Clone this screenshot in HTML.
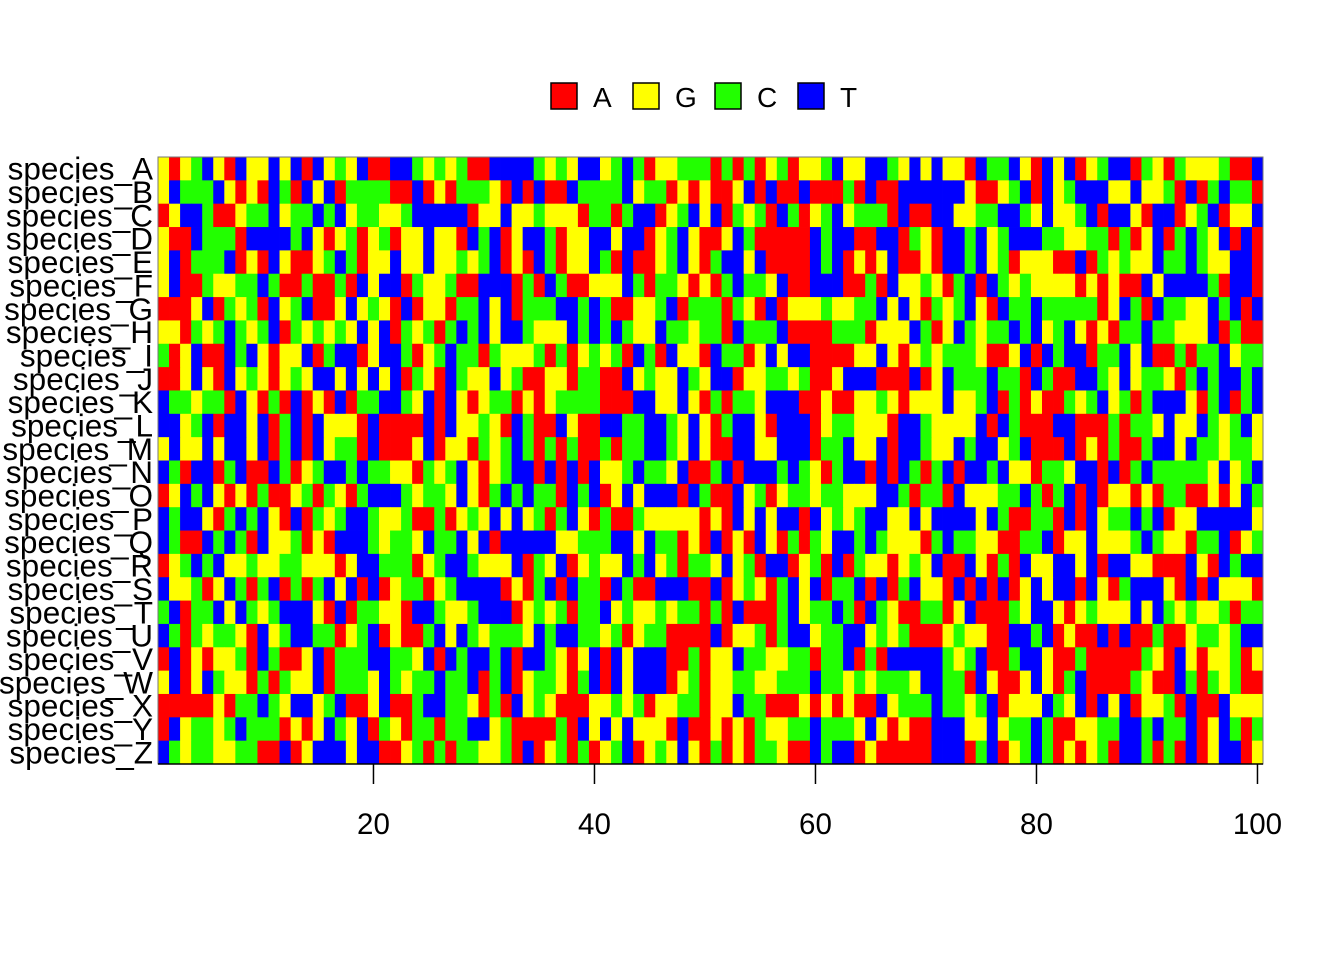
<!DOCTYPE html>
<html><head><meta charset="utf-8"><style>
html,body{margin:0;padding:0;background:#fff;}
svg{display:block;font-family:"Liberation Sans",Arial,sans-serif;}
</style></head><body>
<svg id="chart" width="1344" height="960" viewBox="0 0 1344 960" xmlns="http://www.w3.org/2000/svg">
<rect width="1344" height="960" fill="#fff"/>
<g id="legend"></g>
<g id="cells"></g>
<g id="yaxis"></g>
<g id="xaxis"></g>
</svg>
<script>
const species = ["A","B","C","D","E","F","G","H","I","J","K","L","M","N","O","P","Q","R","S","T","U","V","W","X","Y","Z"];
const bases = ["A","G","C","T"];
const baseColors = ["#ff0000","#ffff00","#22ff00","#0000ff"];
const xTicks = [20,40,60,80,100];
const sequences = [
"YRYGBYRBYYBYBRBYGYBRRBBGYGYGRRBBBBGYGYBBYGBGRYYGGG"+"RGRGRYGRYYGBYYBBGYBYBYYRBGGBYRBYBRYGBBRGYRGYYYGRRB",
"YBGGGBYRYRBGRBYBRGGGGRRBRYRGGGYRBRBRRBGGGGBYGGRYRY"+"RRYBRBRRBRRRGRBRRBBBBBBYRRYGBRBYGBBBYYBYYGRBRGBGGR",
"RYBBGRRYGGBYGGBGBYGGYYGBBBBBRYYBYYGYYYRGGRGBBRYGBY"+"BRGYGRBGRYGBYGGGRBRRBBYYGGBBGYBYYGBRBBYRBBRYGBRYYB",
"YRRBGGGRBBBBGBYRYGRYGRYYBYYRBGBRYBBGRYYBBYBBRYGBYR"+"RYBGRRRRRBGBBRRBBRGYRBBGBYGBBBGGYYGGRGRYBRGBGYBRBR",
"YBRGGGBRYRBYRRYGBGRYYBYYBYYGYGBRYRBGRYYBGRBRRYGBYR"+"GBBYBRRRRBGBRYRYBRRYRBBGBYGRYYYRRBRGYGYYBGGBGYYBBR",
"YBRRGYYGGBGRRGRRGRBYBBRGYYGRRBBBRGRBGRRYYYBGRGGYRY"+"RGBGGYBRRBBBRRGRBYYGYRGBRBGYGYYYYRYRYRRBYBBBBGRBBR",
"RRRYBRGYGRBYGBRRYBYGYRBRYYRGGBYBRGGGBBGBGRRYYGBRGG"+"GRGYRBRYYYGYYGGBYBYRGYGBYRBGGBGGGGGRYBGRBGGYYBGBRB",
"YYRGYGBGYGBRGYGYGYBYBRGYGRGBGBYBBGYYYBGBGBGYYBGGYG"+"GRBGGGBRRRRGGGRYYYBGRYBGYGGBGBYGBYRYRGGBGGYYYBRGRR",
"GRYBRRBGBYRYYBRGBBRYBBGRYGBGGRGYYYGRGRYGYGRBGRBYYR"+"BGGRYBYBBRRRRYYBYRYGYGGGYRRYBRBGBBRGGBYBRRGRGGBYGG",
"RRYBYRBYGYRYGYBBYBYBYBRGYRBGYYBYGRRYYRGGRRBYGYYBGY"+"BBRYYGGYGRRYBBBRRRBRYBGGGBGGRBGRRBBGYBYGGYRGBGBBGB",
"BGGYGGRBYRGRBRYRBRGGBBGYBRBYRYGGRYRYGGGGRRRBBYYBYR"+"GRGGYBBBRRYRRYYGYRYYYBYYGBRGRYRRGYGBYGRGBBBYRGBRGB",
"BBYGBRBBYBRGBRBYYYRBRRRRBRBYYGYRBGRRBYRRBBGGBBGYBY"+"RGBBYRBBBRYGGYYYRBBGYYYYBRBGRRRBBRRRGRGGYBYYBGYGBY",
"YBYYBYBBYBRGBRBYGGRBRRRYBRYYRGYGBGRGRGRRGRGGBBGYBY"+"RRBBYYBBBRGGBYYBRBBGYYBGBBYGBRRRBRYRGRRGBBYBGGYGGY",
"BGRBBRGBRRBGRYGBBGBGGYYRGYGBYRYGBBRBRBRBYYGBGGYBRR"+"GBRBBBGBGYRGBBRBRBGRGBRBBGBYYRGGYBBRBRGBGGGGGYBYGB",
"RYBGBYRYRGRRYGRGYRGBBBGYGGYBYRGBGBGGRBGBRYBYBBBRBG"+"RRBYGRYGGYGGYYYBBGRGGRBYYYGGBGRGBRBRYYRYRGGRRYRYBG",
"BGBBYRGBGBYRBRGYGBBGYYGRRGRYGYBYBYGRGBYRGRRGYYYYYR"+"YRBYBYBBRBYGYGBBYYBYBBBBYBGRRGGRBRBYGGBGBRYYBBBBBY",
"BGRRBGBGRBYYGRYRBBBGYGGYBGGBYBRBBBBBYYGGGBBYBGGRYR"+"BRYRBYRGRGYBBGBGYYYRGBGGYYRRGGBRYYBYYYGBGYYRGGBRYG",
"RYGBGBYYGYYGGYYYRYBBGGGRYGBBGYYYBRGYBRYGYYBGBYGRGG"+"YBYGRBBRYGRBRGYYRYGYBRRBYRGRBYYBBYBRBBYYRRRBYRBGBB",
"BYYGRYBGRGBRGRGBYBRBRYGGRYGBBBBRYRGBRBGGRBGRRBBBRR"+"BRYGYRGBYBRGGBRBRGBYYRBRBRBRYBYBBRBYRGBBBYRBRBYYYR",
"GBRGGBYBGYGBBBYRBRGGYYRBBGYYGBBBRYGYGRGGBYGYYGYGGR"+"GRBRRRGBYGGBGRBGYRRGGRYBRRRGYBBYRYGYYYBYBGYGYYGRGG",
"BGRGYGGYRBYGBBGGRYGBRYRRGBYBGYGGGYBGBBGGYGRYGGRRRR"+"BRYYGRGBBYGGBBYGYGRRRYGYYRRBBGBRYRRBRBRRGRRYGGYGBB",
"RBRYRYYGRBGRRYBRGGGBBGGYBRBGBBGBRBBGYRYBRBYBBBRRGR"+"YYBGGYYGGRGGBRGRBBBBBGYGBRRGBBYRRGRRRRRGYRBYRYYGRY",
"YBRYBGYYRGRGYYBRGGGYBGYGGBGGBRGBRYGGYRGBRBYBBBRYGR"+"YYGGYYGGGBGGYGYGGGYBBGGRBYRRYBYRGBRRRRGYRRBGRGYGRR",
"RRRRRYRGGBGYBBYGBRRYBRRGBBGGYRGRBYGYRRRYYGYGRYYGGR"+"YYBGGRRRYRYRYRRBYGGGBGGYGBRYYYBGYBRBYBRYYGRBRRBYYY",
"RBYGGYGBGGGRYRYBGYBRGYRGGRGGBBYGRRRRGRBYBYBYYYRBRR"+"YRYRGYYGGBGGGYBYRYRRBBBYYBYGGBGRRYYGGBBGBGGBRYBGRG",
"BGYGGYYGGRRBRYBBBYBBRRYGRGRGGYYGRBRYGRGRYGBRYGYBYR"+"GRYRGGYRRBGBBRYRRRRRBBBRGBRYGBGRYRYGRBBGRGRBRYBBRY"
];
const colorIndex = {R:0, Y:1, G:2, B:3};

const NS = "http://www.w3.org/2000/svg";
const plot = {x0:158, x1:1263, y0:157, y1:764};
const nCols = sequences[0].length, nRows = species.length;
const cw = (plot.x1-plot.x0)/nCols, rh = (plot.y1-plot.y0)/nRows;
function xScale(pos){ return plot.x0 + (pos-0.5)*cw; }
function yScale(row){ return plot.y0 + (row+0.5)*rh; }
function mk(tag, attrs, parent){ const e=document.createElementNS(NS,tag); for(const k in attrs) e.setAttribute(k, attrs[k]); parent.appendChild(e); return e; }

const cells = document.getElementById('cells');
sequences.forEach((seq, r) => {
  for (let c = 0; c < seq.length; c++) {
    const ci = colorIndex[seq[c]];
    const x = xScale(c+1) - cw/2, y = yScale(r) - rh/2;
    const el = mk('rect', {x:x.toFixed(2), y:y.toFixed(2), width:(cw+0.4).toFixed(2), height:(rh+0.4).toFixed(2), fill:baseColors[ci]}, cells);
    
    
  }
});
const frame = mk('rect', {x:plot.x0, y:plot.y0, width:plot.x1-plot.x0, height:plot.y1-plot.y0, fill:'none', stroke:'#777', 'stroke-width':1}, cells);



const yaxis = document.getElementById('yaxis');
species.forEach((s, r) => {
  const t = mk('text', {x:153, y:(yScale(r)+11).toFixed(1), 'text-anchor':'end', 'font-size':31.5, fill:'#000'}, yaxis);
  t.textContent = 'species_' + s;
  
  
});

const xaxis = document.getElementById('xaxis');
const axl = mk('line', {x1:plot.x0, x2:plot.x1, y1:plot.y1, y2:plot.y1, stroke:'#000', 'stroke-width':1.5}, xaxis);


xTicks.forEach(v => {
  const x = xScale(v);
  const tk = mk('line', {x1:x, x2:x, y1:plot.y1, y2:plot.y1+20, stroke:'#000', 'stroke-width':1.5}, xaxis);
  
  
  const t = mk('text', {x:x, y:834, 'text-anchor':'middle', 'font-size':29.5, fill:'#000'}, xaxis);
  t.textContent = v;
  
  
});

const legend = document.getElementById('legend');
const legBoxX = [551, 633, 715, 798];
bases.forEach((b, i) => {
  const bx = mk('rect', {x:legBoxX[i], y:83, width:26, height:26, fill:baseColors[i], stroke:'#000', 'stroke-width':1.5}, legend);
  
  
  const t = mk('text', {x:legBoxX[i]+42, y:107, 'font-size':28, fill:'#000'}, legend);
  t.textContent = b;
  
  
});
</script>
</body></html>
